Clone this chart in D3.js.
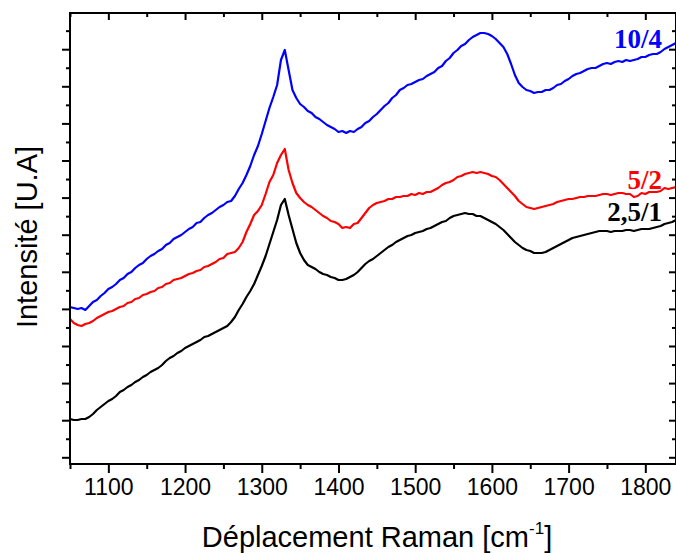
<!DOCTYPE html>
<html><head><meta charset="utf-8">
<script src="https://cdn.jsdelivr.net/npm/d3@7"></script>
<style>
html,body{margin:0;padding:0;background:#fff;}
svg{display:block;}
</style></head>
<body>
<svg id="chart" width="676" height="553"></svg>
<script>
// Raman shift (cm-1)
const wavenumbers = [
1050,1055,1060,1065,1070,1075,1080,1085,1090,1095,1100,1105,1110,1115,1120,1125,1130,1135,1140,1145,
1150,1155,1160,1165,1170,1175,1180,1185,1190,1195,1200,1205,1210,1215,1220,1225,1230,1235,1240,1245,
1250,1255,1260,1265,1270,1275,1280,1285,1290,1295,1300,1305,1310,1315,1320,1325,1330,1335,1340,1345,
1350,1355,1360,1365,1370,1375,1380,1385,1390,1395,1400,1405,1410,1415,1420,1425,1430,1435,1440,1445,
1450,1455,1460,1465,1470,1475,1480,1485,1490,1495,1500,1505,1510,1515,1520,1525,1530,1535,1540,1545,
1550,1555,1560,1565,1570,1575,1580,1585,1590,1595,1600,1605,1610,1615,1620,1625,1630,1635,1640,1645,
1650,1655,1660,1665,1670,1675,1680,1685,1690,1695,1700,1705,1710,1715,1720,1725,1730,1735,1740,1745,
1750,1755,1760,1765,1770,1775,1780,1785,1790,1795,1800,1805,1810,1815,1820,1825,1830,1835,1840];
// Intensities (arbitrary units, offset spectra)
const s10_4 = [
157,156,155,156,154,158,162,164,168,171,175,177,180,184,186,190,192,196,199,201,
205,208,210,213,215,219,221,225,227,229,232,235,237,241,242,246,249,251,254,257,
259,262,263,268,275,281,289,298,309,318,330,343,356,367,379,404,414,394,374,366,
360,357,353,351,347,345,342,339,337,335,332,333,331,333,332,335,337,341,343,347,
350,354,358,361,366,369,374,376,379,380,382,384,385,388,390,392,396,398,403,406,
411,414,418,420,424,427,429,431,431,430,428,425,421,417,410,400,389,381,377,374,
373,371,372,372,374,374,376,379,380,383,385,388,390,391,393,395,396,396,398,400,
401,400,402,403,402,404,403,404,405,407,407,409,410,410,412,415,417,419,421];
const s5_2 = [
145,141,139,138,140,141,143,146,148,150,152,153,155,157,158,161,162,165,166,169,
170,172,173,176,177,180,181,184,185,186,188,190,191,193,194,197,198,200,202,205,
206,210,211,212,216,222,232,240,249,253,259,270,282,289,301,309,315,294,281,271,
266,262,259,257,254,251,248,246,243,242,240,236,237,236,240,241,246,251,256,259,
261,262,263,265,265,267,267,268,268,270,269,271,270,272,272,274,276,279,281,282,
284,287,288,290,291,292,291,292,291,290,288,287,284,280,276,272,268,263,260,257,
256,255,256,257,258,259,260,262,263,264,265,265,266,267,267,268,268,268,269,270,
270,269,270,271,271,270,270,267,268,271,270,272,272,272,273,276,275,276,277];
const s25_1 = [
45,44,44,45,45,47,50,54,57,60,63,65,68,72,74,77,79,82,84,87,
89,92,94,96,99,103,106,108,111,113,116,118,120,122,124,127,128,130,132,134,
136,138,142,147,154,160,167,173,180,189,198,208,220,232,244,259,265,249,235,221,
211,204,199,197,195,192,190,189,187,186,184,184,185,187,189,192,196,200,203,205,
208,211,214,217,219,222,224,226,228,229,231,232,233,235,236,238,240,242,243,246,
248,249,250,251,250,250,248,248,246,244,242,240,237,234,230,226,222,219,216,214,
213,211,211,211,212,214,216,218,220,222,224,226,227,228,229,230,231,232,233,233,
233,232,233,233,233,234,234,233,234,235,235,235,236,237,238,240,241,242,244];
const seriesNames = ["10/4","5/2","2,5/1"];
const seriesColors = ["#0000ff","#ff0000","#000000"];
const xTicks = [1100,1200,1300,1400,1500,1600,1700,1800];
const xMinorTicks = [1050,1150,1250,1350,1450,1550,1650,1750];
const xDomain = [1050,1840];
const yDomain = [0,451];

const svg = d3.select("#chart");
const m = {left:70, right:676, top:13, bottom:464};
const x = d3.scaleLinear().domain(xDomain).range([m.left, m.right]);
const y = d3.scaleLinear().domain(yDomain).range([m.bottom, m.top]);

const yAll = d3.range(0,24).map(k => 6.7 + 18.55*k);
const yMajor = yAll.filter((d,i)=> i%2===0);
const yMinor = yAll.filter((d,i)=> i%2===1);

const sans = "'Liberation Sans', Arial, Helvetica, sans-serif";

// lines
const series = [s10_4, s5_2, s25_1];
const line = d3.line().x(d=>x(d[0])).y(d=>y(d[1]));
svg.append("clipPath").attr("id","clip").append("rect")
  .attr("x", m.left).attr("y", m.top).attr("width", m.right-m.left).attr("height", m.bottom-m.top);
series.forEach((s,i)=>{
  svg.append("path")
    .datum(wavenumbers.map((w,j)=>[w,s[j]]).filter(d=>d[1]!==undefined))
    .attr("fill","none")
    .attr("stroke", seriesColors[i])
    .attr("stroke-width", 2.2)
    .attr("stroke-linejoin","round")
    .attr("clip-path","url(#clip)")
    .attr("d", line);
});

// axes
function styleAxis(g){
  g.select(".domain").remove();
  g.selectAll("line").attr("stroke","#000").attr("stroke-width",2);
}
const gb = svg.append("g").attr("transform",`translate(0,${m.bottom})`)
  .call(d3.axisBottom(x).tickValues(xTicks).tickSize(9).tickPadding(6).tickFormat(d3.format("d")));
styleAxis(gb);
gb.selectAll("text").attr("font-family",sans).attr("font-size",23).attr("fill","#000");
svg.append("g").attr("transform",`translate(0,${m.bottom})`)
  .call(d3.axisBottom(x).tickValues(xMinorTicks).tickSize(5).tickFormat("")).call(styleAxis);
svg.append("g").attr("transform",`translate(0,${m.top})`)
  .call(d3.axisBottom(x).tickValues(xTicks).tickSize(7).tickFormat("")).call(styleAxis);
svg.append("g").attr("transform",`translate(0,${m.top})`)
  .call(d3.axisBottom(x).tickValues(xMinorTicks).tickSize(4).tickFormat("")).call(styleAxis);
svg.append("g").attr("transform",`translate(${m.left},0)`)
  .call(d3.axisLeft(y).tickValues(yMajor).tickSize(8).tickFormat("")).call(styleAxis);
svg.append("g").attr("transform",`translate(${m.left},0)`)
  .call(d3.axisLeft(y).tickValues(yMinor).tickSize(4).tickFormat("")).call(styleAxis);
svg.append("g").attr("transform",`translate(${m.right},0)`)
  .call(d3.axisLeft(y).tickValues(yMajor).tickSize(7).tickFormat("")).call(styleAxis);
svg.append("g").attr("transform",`translate(${m.right},0)`)
  .call(d3.axisLeft(y).tickValues(yMinor).tickSize(4).tickFormat("")).call(styleAxis);

svg.append("rect").attr("x",m.left).attr("y",m.top)
  .attr("width",m.right-m.left).attr("height",m.bottom-m.top)
  .attr("fill","none").attr("stroke","#000").attr("stroke-width",2);

const xt = svg.append("text").attr("x",377).attr("y",547).attr("text-anchor","middle")
  .attr("font-family",sans).attr("font-size",29).attr("fill","#000");
xt.append("tspan").text("Déplacement Raman [cm");
xt.append("tspan").attr("font-size",17).attr("dy",-13).text("-1");
xt.append("tspan").attr("dy",13).text("]");

svg.append("text").attr("transform","translate(37,237) rotate(-90)")
  .attr("text-anchor","middle").attr("font-family",sans).attr("font-size",29).attr("fill","#000")
  .text("Intensité [U.A]");

const labelY = [48,189,221];
seriesNames.forEach((n,i)=>{
  svg.append("text").attr("x",662).attr("y",labelY[i]).attr("text-anchor","end")
    .attr("font-family","'Liberation Serif','Times New Roman',serif").attr("font-weight","bold")
    .attr("font-size",27).attr("fill",seriesColors[i]).text(n);
});
</script>
</body></html>
